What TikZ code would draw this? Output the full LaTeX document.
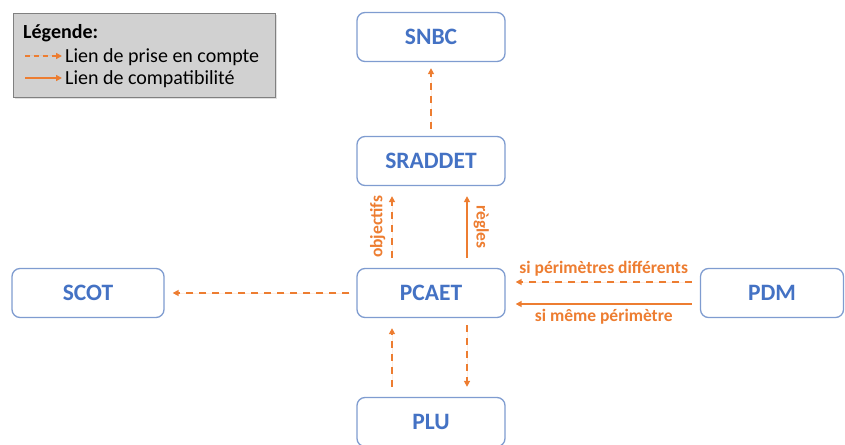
\documentclass[tikz,border=0pt]{standalone}
\usepackage{fontspec}
\setmainfont{Carlito}
\usetikzlibrary{arrows.meta}
\definecolor{orng}{HTML}{ED7D31}
\definecolor{bltxt}{HTML}{4472C4}
\definecolor{blbrd}{HTML}{7F9CD0}
\tikzset{
  doc/.style={draw=blbrd, line width=1.3pt, rounded corners=8pt, fill=white, minimum width=148pt, minimum height=49pt, font=\bfseries\fontsize{23.5}{25}\selectfont, text=bltxt, inner sep=0pt},
  tip/.style={-{Triangle[length=6pt,width=6pt]}},
  pec/.style={tip, draw=orng, fill=orng, line width=1.5pt, dash pattern=on 7pt off 6pt},
  cmp/.style={tip, draw=orng, fill=orng, line width=1.5pt},
  lbl/.style={text=orng, font=\bfseries\fontsize{17.5}{19}\selectfont, inner sep=1pt},
  leg/.style={font=\fontsize{20}{22}\selectfont, anchor=west, inner sep=0pt}
}
\begin{document}
\begin{tikzpicture}[x=1pt,y=-1pt]
\useasboundingbox (0,0) rectangle (845,444);
% legend
\fill[black!12] (15,15) rectangle (277,99);
\node[draw=black!50, fill=black!18, line width=1pt, minimum width=262pt, minimum height=84pt, anchor=north west, inner sep=0pt] (legend) at (13,13) {};
\node[leg, font=\bfseries\fontsize{20}{22}\selectfont] (legt) at (23,33) {Légende:};
\coordinate (l1a) at (25,56);
\coordinate (l1b) at (62,56);
\coordinate (l2a) at (25,78);
\coordinate (l2b) at (62,78);
\draw[pec, dash pattern=on 5pt off 4pt] (l1a) -- (l1b);
\draw[cmp] (l2a) -- (l2b);
\node[leg] (leg1) at (65,57) {Lien de prise en compte};
\node[leg] (leg2) at (65,79) {Lien de compatibilité};
% documents
\node[doc] (snbc) at (431,37) {SNBC};
\node[doc] (sraddet) at (431,161) {SRADDET};
\node[doc] (pcaet) at (431,293) {PCAET};
\node[doc, minimum width=152pt] (scot) at (88,293) {SCOT};
\node[doc, minimum width=143pt] (pdm) at (772,293) {PDM};
\node[doc] (plu) at (431,422) {PLU};
% connectors
\draw[pec] ([yshift=7pt]sraddet.north) -- ([yshift=-6pt]snbc.south);
\draw[pec] ([xshift=-39pt,yshift=10pt]pcaet.north) -- ([xshift=-39pt,yshift=-10pt]sraddet.south) node[midway, lbl, rotate=90, anchor=south, yshift=5pt] (obj) {objectifs};
\draw[cmp] ([xshift=36pt,yshift=10pt]pcaet.north) -- ([xshift=36pt,yshift=-10pt]sraddet.south) node[midway, lbl, rotate=-90, anchor=south, yshift=5pt] (reg) {règles};
\draw[pec] ([xshift=-7pt]pcaet.west) -- ([xshift=8pt]scot.east);
\draw[pec] ([xshift=-8pt,yshift=11pt]pdm.west) -- ([xshift=10pt,yshift=11pt]pcaet.east) node[midway, lbl, anchor=south, yshift=4pt] (diff) {si périmètres différents};
\draw[cmp] ([xshift=-8pt,yshift=-11pt]pdm.west) -- ([xshift=10pt,yshift=-11pt]pcaet.east) node[midway, lbl, anchor=north, yshift=-3pt] (meme) {si même périmètre};
\draw[pec] ([xshift=-39pt,yshift=10pt]plu.north) -- ([xshift=-39pt,yshift=-10pt]pcaet.south);
\draw[pec] ([xshift=36pt,yshift=-7pt]pcaet.south) -- ([xshift=36pt,yshift=10pt]plu.north);
\end{tikzpicture}
\end{document}
